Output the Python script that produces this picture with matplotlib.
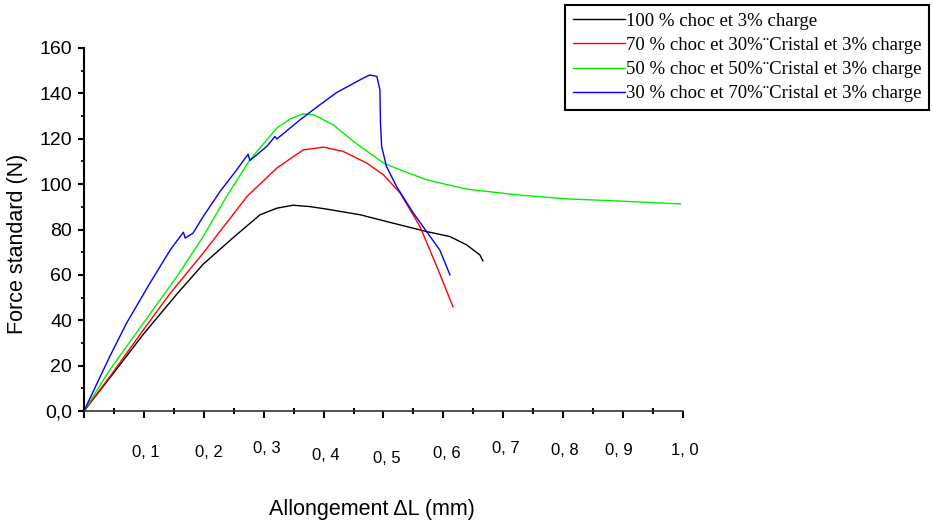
import numpy as np
import matplotlib
matplotlib.use("Agg")
import matplotlib.pyplot as plt

# Data (allongement in mm, force in N)
x_100 = [0.0, 0.049, 0.099, 0.155, 0.199, 0.249, 0.294, 0.322, 0.349, 0.377, 0.405,
         0.461, 0.516, 0.572, 0.611, 0.639, 0.661, 0.666]
f_100 = [0.0, 16.6, 33.8, 51.5, 64.7, 76.4, 86.5, 89.4, 90.7, 90.1, 89.0,
         86.5, 82.8, 79.1, 76.9, 73.2, 68.8, 66.2]

x_70 = [0.0, 0.043, 0.071, 0.099, 0.144, 0.199, 0.272, 0.322, 0.366, 0.400, 0.433,
        0.472, 0.500, 0.528, 0.561, 0.589, 0.616]
f_70 = [0.0, 15.1, 25.4, 35.7, 51.9, 69.6, 94.5, 107.1, 115.1, 116.3, 114.4,
        109.3, 104.1, 96.0, 81.3, 63.7, 46.0]

x_50 = [0.0, 0.043, 0.099, 0.155, 0.199, 0.238, 0.277, 0.322, 0.344, 0.366, 0.383,
        0.416, 0.450, 0.500, 0.528, 0.572, 0.639, 0.722, 0.806, 0.889, 0.996]
f_50 = [0.0, 18.1, 38.7, 59.2, 76.9, 94.5, 110.7, 124.7, 128.7, 131.0, 130.6,
        126.2, 118.8, 109.3, 106.3, 101.9, 97.8, 95.3, 93.5, 92.6, 91.3]

x_30 = [0.0, 0.043, 0.071, 0.110, 0.144, 0.166, 0.169, 0.182, 0.199, 0.227, 0.255,
        0.274, 0.277, 0.305, 0.319, 0.322, 0.361, 0.394, 0.422, 0.461, 0.477,
        0.489, 0.494, 0.495, 0.497, 0.505, 0.522, 0.550, 0.572, 0.594, 0.611]
f_30 = [0.0, 24.0, 38.7, 56.3, 71.0, 78.8, 76.2, 78.4, 85.7, 96.7, 106.3,
        113.2, 110.4, 116.6, 121.0, 119.9, 128.4, 135.0, 140.4, 146.0, 148.1,
        147.5, 141.6, 126.9, 116.6, 107.8, 98.9, 87.2, 79.1, 71.0, 60.0]

labels = ["100 % choc et 3% charge",
          "70 % choc et 30%\u00a8Cristal et 3% charge",
          "50 % choc et 50%\u00a8Cristal et 3% charge",
          "30 % choc et 70%\u00a8Cristal et 3% charge"]

x_ticks = [0.1, 0.2, 0.3, 0.4, 0.5, 0.6, 0.7, 0.8, 0.9, 1.0]
x_tick_labels = ["0, 1", "0, 2", "0, 3", "0, 4", "0, 5", "0, 6", "0, 7", "0, 8", "0, 9", "1, 0"]
y_ticks = [0, 20, 40, 60, 80, 100, 120, 140, 160]
y_tick_labels = ["0,0", "20", "40", "60", "80", "100", "120", "140", "160"]

# the x labels in the original are placed by hand, a bit off the ticks (pixels)
lab_dx = [2, 5, 3, 2, 3.5, 3.6, 2.7, 2, -4, 2]
lab_dy = [41, 41, 37, 44, 47, 42, 37, 39, 39, 39]

fig = plt.figure(figsize=(9.33, 5.24), dpi=100)
ax = fig.add_axes([0.090, 0.2156, 0.642, 0.6928])

ax.plot(x_100, f_100, color="black", lw=1.0, label=labels[0])
ax.plot(x_70, f_70, color="#ff0000", lw=1.0, label=labels[1])
ax.plot(x_50, f_50, color="#00ee00", lw=1.0, label=labels[2])
ax.plot(x_30, f_30, color="#0000ff", lw=1.0, label=labels[3])

ax.set_xlim(0, 1.0)
ax.set_ylim(0, 160)
ax.spines["top"].set_visible(False)
ax.spines["right"].set_visible(False)
ax.spines["left"].set_linewidth(1.5)
ax.spines["bottom"].set_linewidth(1.2)
ax.spines["bottom"].set_color("#333333")

ax.set_xticks([0.0] + x_ticks)
ax.set_xticklabels([])
ax.set_xticks(np.arange(0.05, 1.0, 0.1), minor=True)
ax.set_yticks(y_ticks)
ax.set_yticklabels(y_tick_labels, fontsize=14, family="Liberation Sans")
ax.set_yticks(np.arange(10, 160, 20), minor=True)
ax.tick_params(axis="x", which="major", direction="out", length=5, width=1.5)
ax.tick_params(axis="x", which="minor", direction="inout", length=4, width=1.5)
ax.tick_params(axis="y", which="major", direction="out", length=4.5, width=1.5, pad=4)
ax.tick_params(axis="y", which="minor", direction="out", length=2.5, width=1.2)

for i in range(len(x_ticks)):
    ax.annotate(x_tick_labels[i], xy=(x_ticks[i], 0), xycoords=("data", "axes fraction"),
                xytext=(lab_dx[i] * 0.72, -lab_dy[i] * 0.72), textcoords="offset points",
                ha="center", va="center", fontsize=12, family="Liberation Sans")

ax.set_ylabel("Force standard (N)", fontsize=15.5, family="Liberation Sans")
ax.yaxis.set_label_coords(-0.093, 0.46)
ax.set_xlabel("Allongement \u0394L (mm)", fontsize=15.5, family="Liberation Sans")
ax.xaxis.set_label_coords(0.48, -0.243)

leg = fig.legend(loc="upper left", bbox_to_anchor=(565 / 933, 1 - 5 / 524),
                 borderaxespad=0, fancybox=False, framealpha=1, edgecolor="black",
                 prop={"family": "Liberation Serif", "size": 13.5},
                 handlelength=2.8, handletextpad=0.05, labelspacing=0.38, borderpad=0.4)
leg.get_frame().set_linewidth(1.5)

fig.savefig("out.png", dpi=100)
